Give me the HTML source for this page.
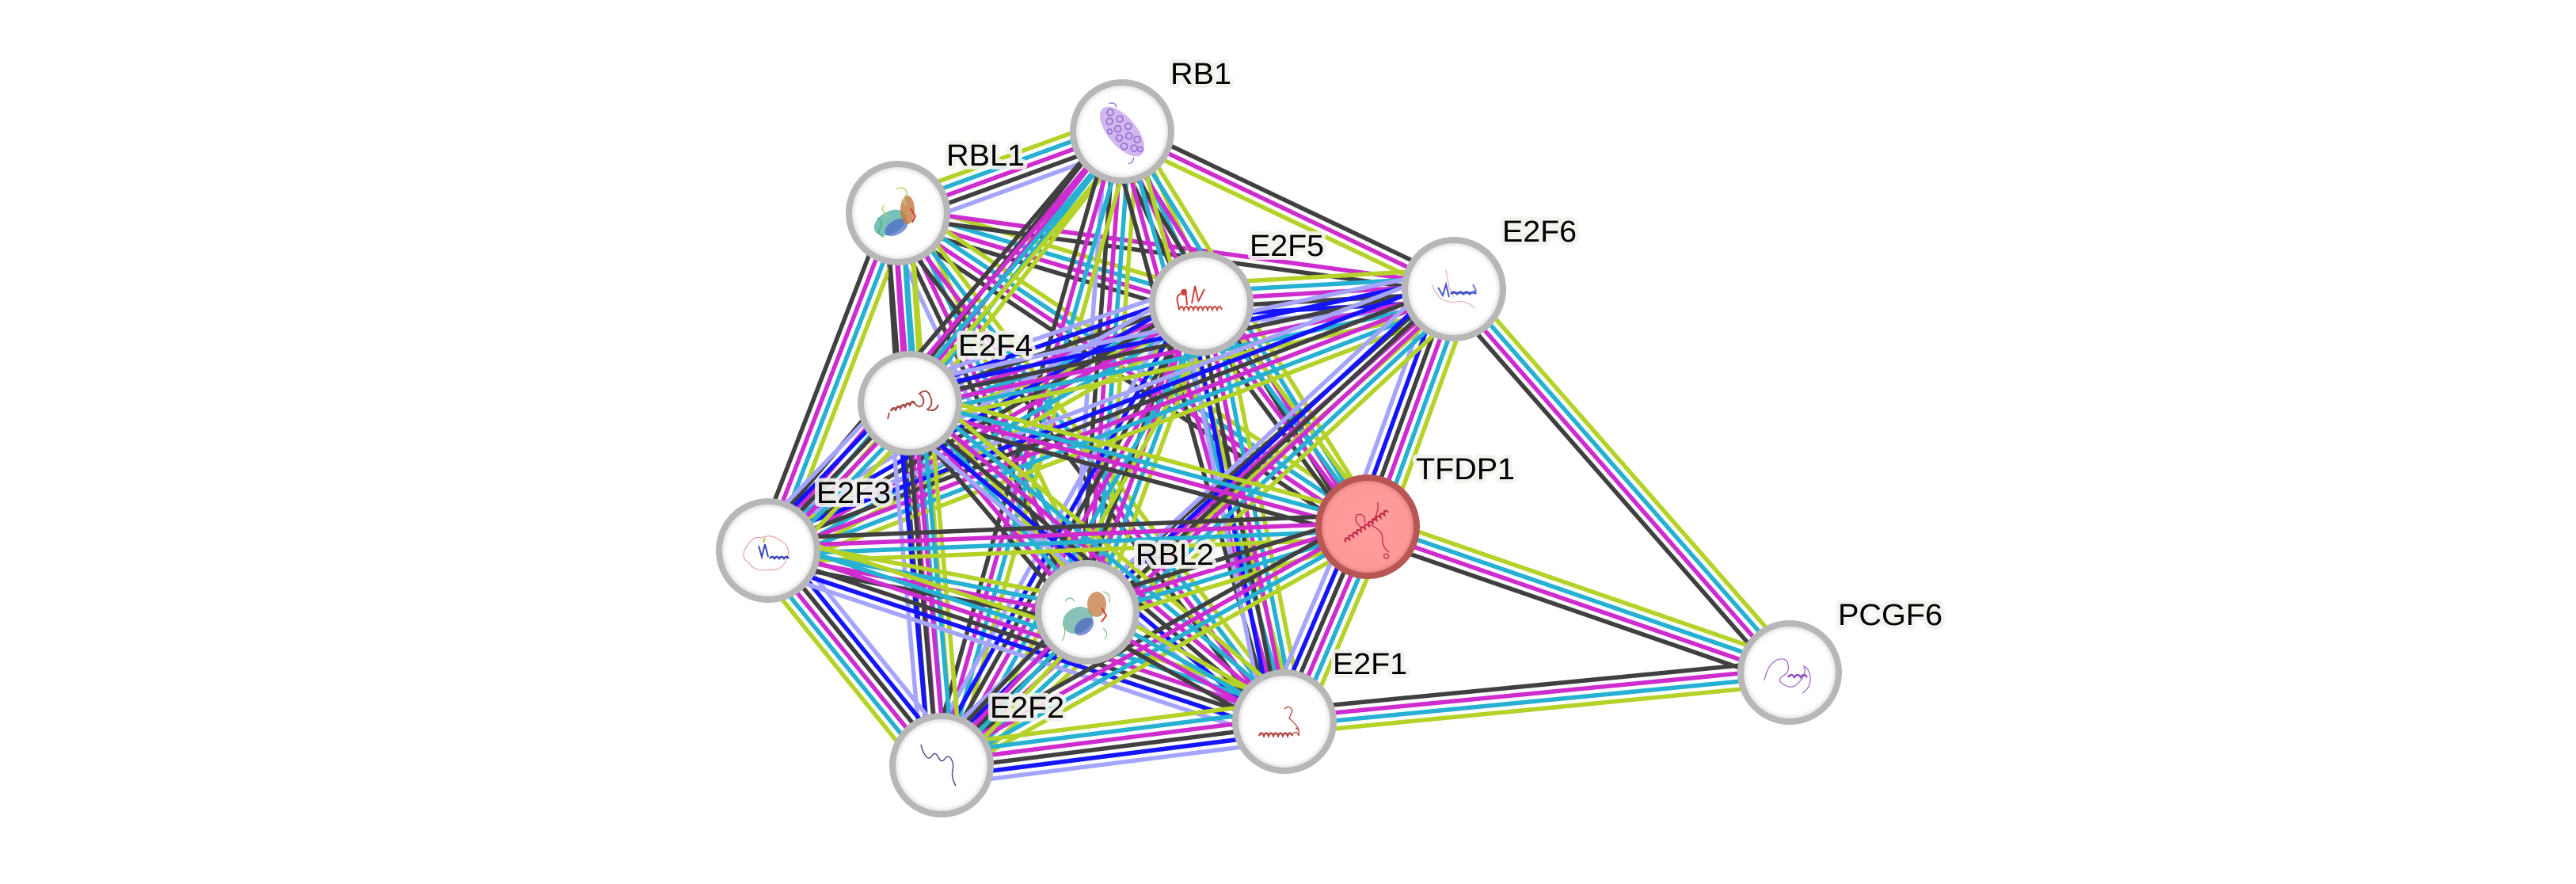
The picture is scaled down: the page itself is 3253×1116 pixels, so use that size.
<!DOCTYPE html>
<html>
<head>
<meta charset="utf-8">
<style>
html,body{margin:0;padding:0;background:#ffffff;}
svg{display:block;}
.lbl{font-family:"Liberation Sans",Arial,sans-serif;font-size:38px;fill:#000;stroke:#f2f2ed;stroke-width:10px;stroke-linejoin:round;paint-order:stroke;stroke-opacity:0.9;}
</style>
</head>
<body>
<svg width="3253" height="1116" viewBox="0 0 3253 1116" xmlns="http://www.w3.org/2000/svg">
<defs>
  <radialGradient id="wf" cx="50%" cy="50%" r="50%">
    <stop offset="0%" stop-color="#ffffff"/>
    <stop offset="84%" stop-color="#ffffff"/>
    <stop offset="100%" stop-color="#d4d4d4"/>
  </radialGradient>
  <radialGradient id="rf" cx="50%" cy="50%" r="50%">
    <stop offset="0%" stop-color="#ff9c9c"/>
    <stop offset="84%" stop-color="#ff9a9a"/>
    <stop offset="100%" stop-color="#dd7a7a"/>
  </radialGradient>
  <g id="s6" stroke-width="5.5">
    <line x1="0" y1="-25" x2="1" y2="-25" stroke="#b4d228"/>
    <line x1="0" y1="-15" x2="1" y2="-15" stroke="#26b0d2"/>
    <line x1="0" y1="-5" x2="1" y2="-5" stroke="#ce2cce"/>
    <line x1="0" y1="5" x2="1" y2="5" stroke="#404040"/>
    <line x1="0" y1="15" x2="1" y2="15" stroke="#1414ff"/>
    <line x1="0" y1="25" x2="1" y2="25" stroke="#a5a5ff"/>
  </g>
  <g id="s5" stroke-width="5.5">
    <line x1="0" y1="-20" x2="1" y2="-20" stroke="#b4d228"/>
    <line x1="0" y1="-10" x2="1" y2="-10" stroke="#26b0d2"/>
    <line x1="0" y1="0" x2="1" y2="0" stroke="#ce2cce"/>
    <line x1="0" y1="10" x2="1" y2="10" stroke="#404040"/>
    <line x1="0" y1="20" x2="1" y2="20" stroke="#a5a5ff"/>
  </g>
  <g id="s4" stroke-width="5.5">
    <line x1="0" y1="-15" x2="1" y2="-15" stroke="#b4d228"/>
    <line x1="0" y1="-5" x2="1" y2="-5" stroke="#26b0d2"/>
    <line x1="0" y1="5" x2="1" y2="5" stroke="#ce2cce"/>
    <line x1="0" y1="15" x2="1" y2="15" stroke="#404040"/>
  </g>
  <g id="s3" stroke-width="5.5">
    <line x1="0" y1="-10" x2="1" y2="-10" stroke="#b4d228"/>
    <line x1="0" y1="0" x2="1" y2="0" stroke="#ce2cce"/>
    <line x1="0" y1="10" x2="1" y2="10" stroke="#404040"/>
  </g>
  <g id="s2" stroke-width="5.5">
    <line x1="0" y1="-5" x2="1" y2="-5" stroke="#ce2cce"/>
    <line x1="0" y1="5" x2="1" y2="5" stroke="#404040"/>
  </g>
</defs>

<!-- edges -->
<g>
<use href="#s5" transform="matrix(283,-103,0.3420,0.9397,1134,269)"/>
<use href="#s4" transform="matrix(383,114,-0.2853,0.9585,1134,269)"/>
<use href="#s2" transform="matrix(702,96,-0.1355,0.9908,1134,269)"/>
<use href="#s4" transform="matrix(15,240,-0.9981,0.0624,1134,269)"/>
<use href="#s4" transform="matrix(-164,426,-0.9332,-0.3593,1134,269)"/>
<use href="#s4" transform="matrix(593,396,-0.5553,0.8316,1134,269)"/>
<use href="#s5" transform="matrix(239,504,-0.9035,0.4285,1134,269)"/>
<use href="#s4" transform="matrix(55,697,-0.9969,0.0787,1134,269)"/>
<use href="#s4" transform="matrix(488,642,-0.7961,0.6052,1134,269)"/>
<use href="#s4" transform="matrix(100,217,-0.9083,0.4186,1417,166)"/>
<use href="#s3" transform="matrix(-419,-199,0.4290,-0.9032,1836,365)"/>
<use href="#s4" transform="matrix(-268,343,-0.7880,-0.6157,1417,166)"/>
<use href="#s4" transform="matrix(-447,529,-0.7638,-0.6454,1417,166)"/>
<use href="#s4" transform="matrix(310,499,-0.8494,0.5277,1417,166)"/>
<use href="#s5" transform="matrix(-44,607,-0.9974,-0.0723,1417,166)"/>
<use href="#s4" transform="matrix(-228,800,-0.9617,-0.2741,1417,166)"/>
<use href="#s4" transform="matrix(205,745,-0.9642,0.2653,1417,166)"/>
<use href="#s6" transform="matrix(319,-18,0.0563,0.9984,1517,383)"/>
<use href="#s6" transform="matrix(-368,126,-0.3239,-0.9460,1517,383)"/>
<use href="#s6" transform="matrix(-547,312,-0.4955,-0.8687,1517,383)"/>
<use href="#s4" transform="matrix(210,282,-0.8020,0.5973,1517,383)"/>
<use href="#s4" transform="matrix(-144,390,-0.9382,-0.3464,1517,383)"/>
<use href="#s6" transform="matrix(-328,583,-0.8716,-0.4904,1517,383)"/>
<use href="#s6" transform="matrix(105,528,-0.9808,0.1951,1517,383)"/>
<use href="#s6" transform="matrix(-687,144,-0.2052,-0.9788,1836,365)"/>
<use href="#s6" transform="matrix(-866,330,-0.3561,-0.9345,1836,365)"/>
<use href="#s6" transform="matrix(-109,300,-0.9399,-0.3415,1836,365)"/>
<use href="#s4" transform="matrix(424,484,-0.7521,0.6589,1836,365)"/>
<use href="#s3" transform="matrix(-463,408,-0.6611,-0.7503,1836,365)"/>
<use href="#s6" transform="matrix(-647,601,-0.6806,-0.7327,1836,365)"/>
<use href="#s6" transform="matrix(-179,186,-0.7206,-0.6935,1149,509)"/>
<use href="#s4" transform="matrix(578,156,-0.2606,0.9654,1149,509)"/>
<use href="#s4" transform="matrix(224,264,-0.7626,0.6470,1149,509)"/>
<use href="#s6" transform="matrix(40,457,-0.9963,0.0872,1149,509)"/>
<use href="#s6" transform="matrix(473,402,-0.6476,0.7620,1149,509)"/>
<use href="#s4" transform="matrix(-757,30,-0.0396,-0.9992,1727,665)"/>
<use href="#s4" transform="matrix(403,78,-0.1900,0.9817,970,695)"/>
<use href="#s6" transform="matrix(-219,-271,0.7778,-0.6286,1189,966)"/>
<use href="#s6" transform="matrix(652,216,-0.3145,0.9493,970,695)"/>
<use href="#s4" transform="matrix(533,184,-0.3263,0.9452,1727,665)"/>
<use href="#s4" transform="matrix(-354,108,-0.2918,-0.9565,1727,665)"/>
<use href="#s4" transform="matrix(-538,301,-0.4882,-0.8727,1727,665)"/>
<use href="#s6" transform="matrix(-105,246,-0.9196,-0.3925,1727,665)"/>
<use href="#s4" transform="matrix(-638,62,-0.0967,-0.9953,2260,849)"/>
<use href="#s4" transform="matrix(-184,193,-0.7237,-0.6899,1373,773)"/>
<use href="#s4" transform="matrix(249,138,-0.4847,0.8746,1373,773)"/>
<use href="#s6" transform="matrix(433,-55,0.1260,0.9920,1189,966)"/>
</g>

<!-- nodes -->
<g stroke="#b7b7b7" stroke-width="8" fill="url(#wf)">
  <circle cx="1417" cy="166" r="62"/>
  <circle cx="1134" cy="269" r="62"/>
  <circle cx="1517" cy="383" r="62"/>
  <circle cx="1836" cy="365" r="62"/>
  <circle cx="1149" cy="509" r="62"/>
  <circle cx="970" cy="695" r="62"/>
  <circle cx="2260" cy="849" r="62"/>
  <circle cx="1373" cy="773" r="62"/>
  <circle cx="1189" cy="966" r="62"/>
  <circle cx="1622" cy="911" r="62"/>
</g>
<circle cx="1727" cy="665" r="62" fill="url(#rf)" stroke="#b85656" stroke-width="8"/>

<!-- protein glyphs -->
<!-- RB1 -->
<g transform="translate(1417,166) rotate(50)">
  <ellipse cx="0" cy="0" rx="38" ry="18" fill="#c4a6ea" opacity="0.8"/>
  <g fill="none" stroke="#9a6cd4" stroke-width="1.6">
    <circle cx="-28" cy="-4" r="4"/><circle cx="-20" cy="4" r="4"/><circle cx="-14" cy="-8" r="4"/>
    <circle cx="-6" cy="2" r="4"/><circle cx="0" cy="-10" r="4"/><circle cx="4" cy="8" r="4"/>
    <circle cx="10" cy="-3" r="4"/><circle cx="16" cy="10" r="4"/><circle cx="20" cy="-8" r="4"/>
    <circle cx="26" cy="2" r="4"/><circle cx="32" cy="-3" r="3"/><circle cx="-10" cy="12" r="3"/>
  </g>
  <path d="M-38,-10 q4,-8 10,-4 M34,10 q6,4 2,10" fill="none" stroke="#8a5cc0" stroke-width="1.2"/>
</g>
<!-- RBL1 -->
<g transform="translate(1134,269)">
  <ellipse cx="-10" cy="12" rx="22" ry="14" fill="#3fa79a" opacity="0.7" transform="rotate(-30 -10 12)"/>
  <ellipse cx="-2" cy="18" rx="16" ry="9" fill="#4a64c8" opacity="0.7" transform="rotate(-30 -2 18)"/>
  <ellipse cx="12" cy="-4" rx="9" ry="18" fill="#c4783e" opacity="0.8"/>
  <path d="M16,-6 l6,10 l-4,8" fill="none" stroke="#d04030" stroke-width="2"/>
  <path d="M-2,-30 q10,-6 14,6 q-8,6 -2,14 M-14,4 q-8,-6 -4,-14" fill="none" stroke="#b7d870" stroke-width="1.5"/>
  <path d="M-26,6 q8,4 4,12 q-6,8 4,12" fill="none" stroke="#58b070" stroke-width="1.5"/>
</g>
<!-- E2F5 -->
<g transform="translate(1517,383)" fill="none" stroke="#c9443e" stroke-width="2">
  <path d="M-28,8 q3,-8 6,0 q3,-8 6,0 q3,-8 6,0 q3,-8 6,0 q3,-8 6,0 q3,-8 6,0 q3,-8 6,0 q3,-8 6,0 q3,-8 6,0"/>
  <path d="M-28,8 l-2,-10 q-2,-8 4,-10 M-18,2 l-2,-20 M-12,0 l4,-22 l4,18 M-4,-2 l8,-16"/>
  <circle cx="-22" cy="-14" r="3" fill="#c9443e"/>
</g>
<!-- E2F6 -->
<g transform="translate(1836,365)" fill="none" stroke-width="2">
  <path d="M-28,-6 q6,14 12,18 q10,6 20,4 q12,-2 22,8" stroke="#e8a0a0" stroke-width="1"/>
  <path d="M-10,-24 l4,22 l6,12" stroke="#e8a0a0" stroke-width="1"/>
  <path d="M-20,-2 l6,10 l4,-14 l4,16" stroke="#4a58c8"/>
  <path d="M-4,6 q4,-4 8,0 q4,-4 8,0 q4,-4 8,0 q4,-4 8,0" stroke="#4a58c8" stroke-width="3"/>
  <path d="M24,-6 l4,8 l-6,2" stroke="#6a80d8"/>
</g>
<!-- E2F4 -->
<g transform="translate(1149,509)" fill="none" stroke="#a8504a" stroke-width="2">
  <path d="M-24,10 q3,-6 6,-2 q3,-6 6,-2 q3,-6 6,-2 q3,-6 6,-2 q3,-6 6,-2" stroke-width="3"/>
  <path d="M4,-2 q8,10 12,4 q4,-8 -4,-14 q10,-8 14,4 q4,10 -4,16 q10,4 14,-6"/>
  <path d="M-26,12 l-2,8"/>
</g>
<!-- E2F3 -->
<g transform="translate(970,695)" fill="none">
  <path d="M-30,0 q10,-20 22,-16 q12,-6 24,4 q14,8 8,22 q-6,16 -22,14 q-18,4 -26,-8 q-10,-6 -6,-16" stroke="#e89090" stroke-width="1"/>
  <path d="M-12,-6 l4,14 l4,-16 l4,16" stroke="#3a48c0" stroke-width="2"/>
  <path d="M2,10 q3,-4 6,0 q3,-4 6,0 q3,-4 6,0 q3,-4 6,0" stroke="#3a48c0" stroke-width="2.5"/>
  <path d="M-6,-10 l2,-6" stroke="#b0d040" stroke-width="2"/>
</g>
<!-- TFDP1 -->
<g transform="translate(1727,665) rotate(-35)" fill="none" stroke="#c02a48" stroke-width="2.2">
  <path d="M-34,0 q3,-8 6,0 q3,-8 6,0 q3,-8 6,0 q3,-8 6,0 q3,-8 6,0 q3,-8 6,0 q3,-8 6,0 q3,-8 6,0 q3,-8 6,0 q3,-8 6,0 q3,-8 6,0"/>
  <path d="M-6,-2 q-6,-14 4,-18 q10,4 2,14 M4,0 q10,16 2,24 q-6,10 -2,18 M10,-2 q14,-6 18,-16" stroke-width="1.3"/>
  <circle cx="-2" cy="44" r="3" stroke-width="1.3"/>
</g>
<!-- RBL2 -->
<g transform="translate(1373,773)">
  <ellipse cx="-12" cy="10" rx="20" ry="16" fill="#3e9a88" opacity="0.6" transform="rotate(-30 -12 10)"/>
  <ellipse cx="-4" cy="18" rx="14" ry="9" fill="#4458c0" opacity="0.65" transform="rotate(-40 -4 18)"/>
  <ellipse cx="12" cy="-10" rx="12" ry="16" fill="#c07a3e" opacity="0.75"/>
  <path d="M18,-6 l6,10 l-6,8" fill="none" stroke="#d04030" stroke-width="2"/>
  <path d="M-28,-14 q6,-8 12,0 M20,-26 q10,2 8,14 M-30,14 q4,14 -2,22 M20,20 q8,6 2,14" fill="none" stroke="#80c080" stroke-width="1.2"/>
</g>
<!-- E2F1 -->
<g transform="translate(1622,911)" fill="none" stroke="#b4463e" stroke-width="2">
  <path d="M-32,18 q3,-7 6,0 q3,-7 6,0 q3,-7 6,0 q3,-7 6,0 q3,-7 6,0 q3,-7 6,0 q3,-7 6,0" stroke-width="2.4"/>
  <path d="M10,16 q6,-6 8,2 q2,-8 -4,-10 M0,-16 q6,-6 10,2 l-4,10 q8,6 12,14" stroke-width="1.3"/>
</g>
<!-- E2F2 -->
<g transform="translate(1189,966)" fill="none" stroke="#50508f" stroke-width="1.5">
  <path d="M-26,-26 q2,10 6,14 q4,6 8,0 q4,-6 8,2 q4,8 8,2 q4,-6 8,0 q4,6 2,14 q-2,10 4,20"/>
</g>
<!-- PCGF6 -->
<g transform="translate(2260,849)" fill="none" stroke="#a070c8" stroke-width="1.3">
  <path d="M-32,10 q4,-20 16,-26 q12,-4 14,6 q2,10 -6,14 q-10,6 2,12 q10,6 18,-4 q10,-10 6,-20 q8,4 8,16 q0,12 -10,18"/>
  <path d="M-2,6 q4,-6 8,0 q4,-6 8,0 q4,-6 8,0" stroke="#9050c0" stroke-width="2.5"/>
</g>

<!-- labels -->
<g class="lbl">
  <text x="1478" y="106" textLength="77" lengthAdjust="spacingAndGlyphs" class="lbl">RB1</text>
  <text x="1195" y="209" textLength="99" lengthAdjust="spacingAndGlyphs" class="lbl">RBL1</text>
  <text x="1578" y="323" textLength="94" lengthAdjust="spacingAndGlyphs" class="lbl">E2F5</text>
  <text x="1897" y="305" textLength="94" lengthAdjust="spacingAndGlyphs" class="lbl">E2F6</text>
  <text x="1210" y="449" textLength="94" lengthAdjust="spacingAndGlyphs" class="lbl">E2F4</text>
  <text x="1031" y="635" textLength="94" lengthAdjust="spacingAndGlyphs" class="lbl">E2F3</text>
  <text x="1788" y="605" textLength="125" lengthAdjust="spacingAndGlyphs" class="lbl">TFDP1</text>
  <text x="2321" y="789" textLength="132" lengthAdjust="spacingAndGlyphs" class="lbl">PCGF6</text>
  <text x="1434" y="713" textLength="99" lengthAdjust="spacingAndGlyphs" class="lbl">RBL2</text>
  <text x="1250" y="906" textLength="94" lengthAdjust="spacingAndGlyphs" class="lbl">E2F2</text>
  <text x="1683" y="851" textLength="94" lengthAdjust="spacingAndGlyphs" class="lbl">E2F1</text>
</g>
</svg>
</body>
</html>
